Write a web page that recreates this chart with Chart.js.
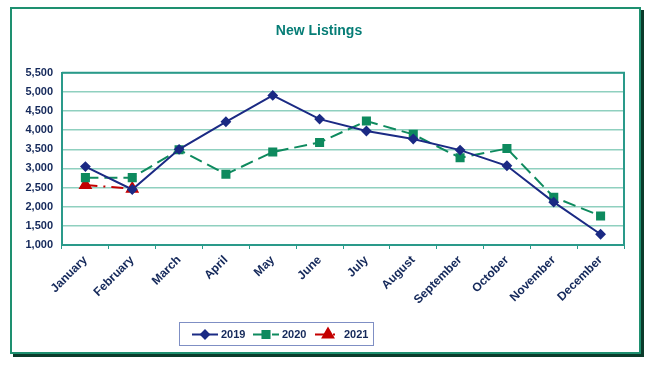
<!DOCTYPE html>
<html lang="en">
<head>
    <meta charset="UTF-8">
    <title>New Listings</title>
    <script src="https://cdn.jsdelivr.net/npm/chart.js"></script>
    <style>
        html, body { margin: 0; padding: 0; background: #fff; }
        .frame {
            position: relative;
            width: 651px;
            height: 365px;
        }
        /* green chart border with dark drop shadow */
        .frame .border {
            position: absolute;
            left: 10px; top: 7px;
            width: 627px; height: 343px;
            border: 2px solid #1e9070;
            box-shadow: 3px 3px 0 #0b3b2b;
        }
        canvas { position: absolute; left: 0; top: 0; }
    </style>
</head>
<body>
    <div class="frame">
        <div class="border"></div>
        <canvas id="listingsChart" width="651" height="365"></canvas>
    </div>

    <script>
        // Data
        const months = ['January', 'February', 'March', 'April', 'May', 'June',
                        'July', 'August', 'September', 'October', 'November', 'December'];
        const listings2019 = [3050, 2450, 3500, 4220, 4910, 4290, 3980, 3770, 3480, 3070, 2120, 1280];
        const listings2020 = [2760, 2760, 3490, 2850, 3430, 3680, 4240, 3890, 3280, 3520, 2250, 1760];
        const listings2021 = [2570, 2470];
        const yTicks = [1000, 1500, 2000, 2500, 3000, 3500, 4000, 4500, 5000, 5500];

        const navy = '#1b2a84';
        const green = '#0e8a5e';
        const red = '#c40000';
        const labelColor = '#14285a';
        const fontFamily = '"Liberation Sans", Arial, sans-serif';

        // Draws the boxed legend under the axis labels (line + marker + year)
        const boxLegend = {
            id: 'boxLegend',
            afterDraw(chart) {
                const ctx = chart.ctx;
                const box = { x: 179.5, y: 322.5, w: 194, h: 23 };
                ctx.save();
                ctx.strokeStyle = '#7f8fc4';
                ctx.lineWidth = 1;
                ctx.strokeRect(box.x, box.y, box.w, box.h);

                const cy = box.y + box.h / 2 + 0.5;
                const items = [
                    { ds: 0, x: 192, text: '2019' },
                    { ds: 1, x: 253, text: '2020' },
                    { ds: 2, x: 315, text: '2021' }
                ];
                items.forEach(item => {
                    const ds = chart.data.datasets[item.ds];
                    ctx.strokeStyle = ds.borderColor;
                    ctx.lineWidth = 2;
                    ctx.setLineDash(ds.borderDash || []);
                    ctx.beginPath();
                    ctx.moveTo(item.x, cy);
                    ctx.lineTo(item.x + 26, cy);
                    ctx.stroke();
                    ctx.setLineDash([]);
                    Chart.helpers.drawPoint(ctx, {
                        pointStyle: ds.pointStyle,
                        radius: ds.pointRadius,
                        rotation: 0,
                        borderWidth: 1
                    }, item.x + 13, cy);
                    ctx.fillStyle = ds.pointBackgroundColor;
                    ctx.strokeStyle = ds.pointBorderColor;
                    ctx.fill();
                    ctx.fillStyle = labelColor;
                    ctx.font = 'bold 11px ' + fontFamily;
                    ctx.textBaseline = 'middle';
                    ctx.fillText(item.text, item.x + 29, cy);
                });
                ctx.restore();
            }
        };

        const ctx = document.getElementById('listingsChart').getContext('2d');
        new Chart(ctx, {
            type: 'line',
            data: {
                labels: months,
                datasets: [
                    {
                        label: '2019',
                        data: listings2019,
                        borderColor: navy,
                        borderWidth: 2,
                        pointStyle: 'rectRot',
                        pointRadius: 4,
                        pointBackgroundColor: navy,
                        pointBorderColor: navy,
                        tension: 0
                    },
                    {
                        label: '2020',
                        data: listings2020,
                        borderColor: green,
                        borderWidth: 2,
                        borderDash: [13, 6],
                        pointStyle: 'rect',
                        pointRadius: 5,
                        pointBackgroundColor: green,
                        pointBorderColor: green,
                        tension: 0
                    },
                    {
                        label: '2021',
                        data: listings2021,
                        borderColor: red,
                        borderWidth: 2,
                        borderDash: [12, 6, 2, 6],
                        pointStyle: 'triangle',
                        pointRadius: 6,
                        pointBackgroundColor: red,
                        pointBorderColor: red,
                        tension: 0
                    }
                ]
            },
            options: {
                responsive: false,
                animation: false,
                layout: { padding: { left: 14, right: 27, top: 0, bottom: 0 } },
                plugins: {
                    legend: { display: false },
                    tooltip: { enabled: false },
                    title: {
                        display: true,
                        text: 'New Listings',
                        color: '#067d76',
                        font: { family: fontFamily, size: 14, weight: 'bold' },
                        padding: { top: 23, bottom: 33 }
                    }
                },
                scales: {
                    x: {
                        offset: true,
                        grid: {
                            offset: true,
                            drawOnChartArea: false,
                            color: '#2a9a8a',
                            tickLength: 4
                        },
                        border: { color: '#2a9a8a', width: 2 },
                        ticks: {
                            color: labelColor,
                            minRotation: 45,
                            maxRotation: 45,
                            labelOffset: 0,
                            padding: 4,
                            font: { family: fontFamily, size: 12, weight: 'bold' }
                        },
                        afterFit(scale) { scale.height = 120; }
                    },
                    y: {
                        min: 1000,
                        max: 5500,
                        afterBuildTicks(scale) { scale.ticks = yTicks.map(v => ({ value: v })); },
                        grid: {
                            color: '#8fd0bf',
                            lineWidth: 1.5,
                            drawTicks: false
                        },
                        border: { color: '#2a9a8a', width: 2 },
                        ticks: {
                            color: labelColor,
                            padding: 9,
                            font: { family: fontFamily, size: 11, weight: 'bold' },
                            callback: v => v.toLocaleString('en-US')
                        },
                        afterFit(scale) { scale.width = 48; }
                    }
                }
            },
            plugins: [boxLegend, {
                // right and top edges of the plot box
                id: 'plotBox',
                afterDraw(chart) {
                    const a = chart.chartArea;
                    const c = chart.ctx;
                    c.save();
                    c.strokeStyle = '#2a9a8a';
                    c.lineWidth = 2;
                    c.beginPath();
                    c.moveTo(a.left, a.top);
                    c.lineTo(a.right, a.top);
                    c.lineTo(a.right, a.bottom);
                    c.stroke();
                    c.restore();
                }
            }]
        });
    </script>
</body>
</html>
